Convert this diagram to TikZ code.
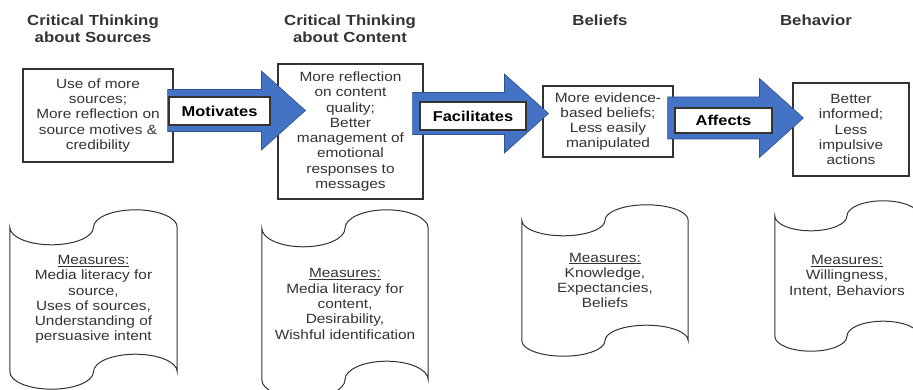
\documentclass[tikz,border=0pt]{standalone}
\usepackage{fontspec}
\setmainfont{Liberation Sans}[FakeStretch=1.15]
\usetikzlibrary{calc}

\definecolor{arrowblue}{HTML}{4472C4}
\definecolor{arrowedge}{HTML}{2F528F}
\definecolor{inkgray}{HTML}{333333}

% wide block arrow from #1 (tail) to #2 (tip)
\newcommand\fatarrow[2]{%
  \draw[fatarrow] ($(#1)+(0,-21)$) -- ($(#2)+(-44,-21)$) -- ($(#2)+(-44,-39.5)$)
    -- (#2) -- ($(#2)+(-44,39.5)$) -- ($(#2)+(-44,21)$) -- ($(#1)+(0,21)$) -- cycle;}

% punched tape outline round node #1, wave amplitude #2
\newcommand\tapeoutline[2]{%
  \draw[tapeline] let \p1=(#1.north west), \p2=(#1.south east), \n1={(\x2-\x1)/4} in
    ({\x1},{\y1-#2pt})
      arc[start angle=180, end angle=360, x radius=\n1, y radius=#2pt]
      arc[start angle=180, end angle=0, x radius=\n1, y radius=#2pt]
    -- ({\x2},{\y2+#2pt})
      arc[start angle=0, end angle=180, x radius=\n1, y radius=#2pt]
      arc[start angle=0, end angle=-180, x radius=\n1, y radius=#2pt]
    -- cycle;}

\begin{document}
\begin{tikzpicture}
  [x=1pt,y=-1pt,
   head/.style={align=center, text=inkgray, font=\bfseries\fontsize{14.6}{17}\selectfont},
   box/.style={draw=inkgray, line width=1.1pt, fill=white, align=center, inner sep=0pt,
     text=inkgray, font=\fontsize{13.4}{15.3}\selectfont},
   verb/.style={draw=inkgray, line width=1.1pt, fill=white, inner sep=0pt,
     text=black, font=\bfseries\fontsize{14.3}{16}\selectfont},
   tapetext/.style={align=center, inner sep=0pt, text=inkgray,
     font=\fontsize{13.4}{15.3}\selectfont},
   tapeline/.style={draw=inkgray, line width=1pt},
   fatarrow/.style={fill=arrowblue, draw=arrowedge, line width=0.6pt}]
  \useasboundingbox (0,0) rectangle (913,390);

  % column titles
  \node[head] (h1) at (93,28.5)  {Critical Thinking\\about Sources};
  \node[head] (h2) at (350,28.5) {Critical Thinking\\about Content};
  \node[head] (h3) at (600,20)   {Beliefs};
  \node[head] (h4) at (816,20)   {Behavior};

  % outcome boxes
  \node[box, minimum width=150pt, minimum height=93pt] (b1) at (98,115.5)
    {Use of more\\sources;\\More reflection on\\source motives \&\\credibility};
  \node[box, minimum width=145pt, minimum height=135pt] (b2) at (350.5,131.5)
    {More reflection\\on content\\quality;\\Better\\management of\\emotional\\responses to\\messages};
  \node[box, minimum width=130pt, minimum height=71pt] (b3) at (608,121.5)
    {More evidence-\\based beliefs;\\Less easily\\manipulated};
  \node[box, minimum width=116pt, minimum height=93pt] (b4) at (851,129.5)
    {Better\\informed;\\Less\\impulsive\\actions};

  % arrows between the boxes
  \coordinate (m1s) at ([shift={(-6,-5)}]b1.east);
  \coordinate (m1t) at ([shift={(28,-21)}]b2.west);
  \coordinate (m2s) at ([shift={(-11,-18)}]b2.east);
  \coordinate (m2t) at ([shift={(6,-8)}]b3.west);
  \coordinate (m3s) at ([shift={(-6,-3.5)}]b3.east);
  \coordinate (m3t) at ([shift={(11,-11.5)}]b4.west);
  \fatarrow{m1s}{m1t}
  \fatarrow{m2s}{m2t}
  \fatarrow{m3s}{m3t}

  \node[verb, minimum width=101pt, minimum height=28pt] (v1) at (219.5,111) {Motivates};
  \node[verb, minimum width=106pt, minimum height=28pt] (v2) at (473,116)   {Facilitates};
  \node[verb, minimum width=97pt,  minimum height=25pt] (v3) at (723.5,120.5) {Affects};

  % measures
  \node[tapetext, minimum width=167pt, minimum height=179pt] (s1) at (93.5,299.5)
    {\underline{Measures:}\\Media literacy for\\source,\\Uses of sources,\\Understanding of\\persuasive intent};
  \node[tapetext, minimum width=166pt, minimum height=188pt] (s2) at (345,304)
    {\underline{Measures:}\\Media literacy for\\content,\\Desirability,\\Wishful identification};
  \node[tapetext, minimum width=166pt, minimum height=151pt] (s3) at (605,280.5)
    {\underline{Measures:}\\Knowledge,\\Expectancies,\\Beliefs};
  \node[tapetext, minimum width=144pt, minimum height=150pt] (s4) at (847,276)
    {\underline{Measures:}\\Willingness,\\Intent, Behaviors};
  \tapeoutline{s1}{17.5}
  \tapeoutline{s2}{18.5}
  \tapeoutline{s3}{15.5}
  \tapeoutline{s4}{15}
\end{tikzpicture}
\end{document}
